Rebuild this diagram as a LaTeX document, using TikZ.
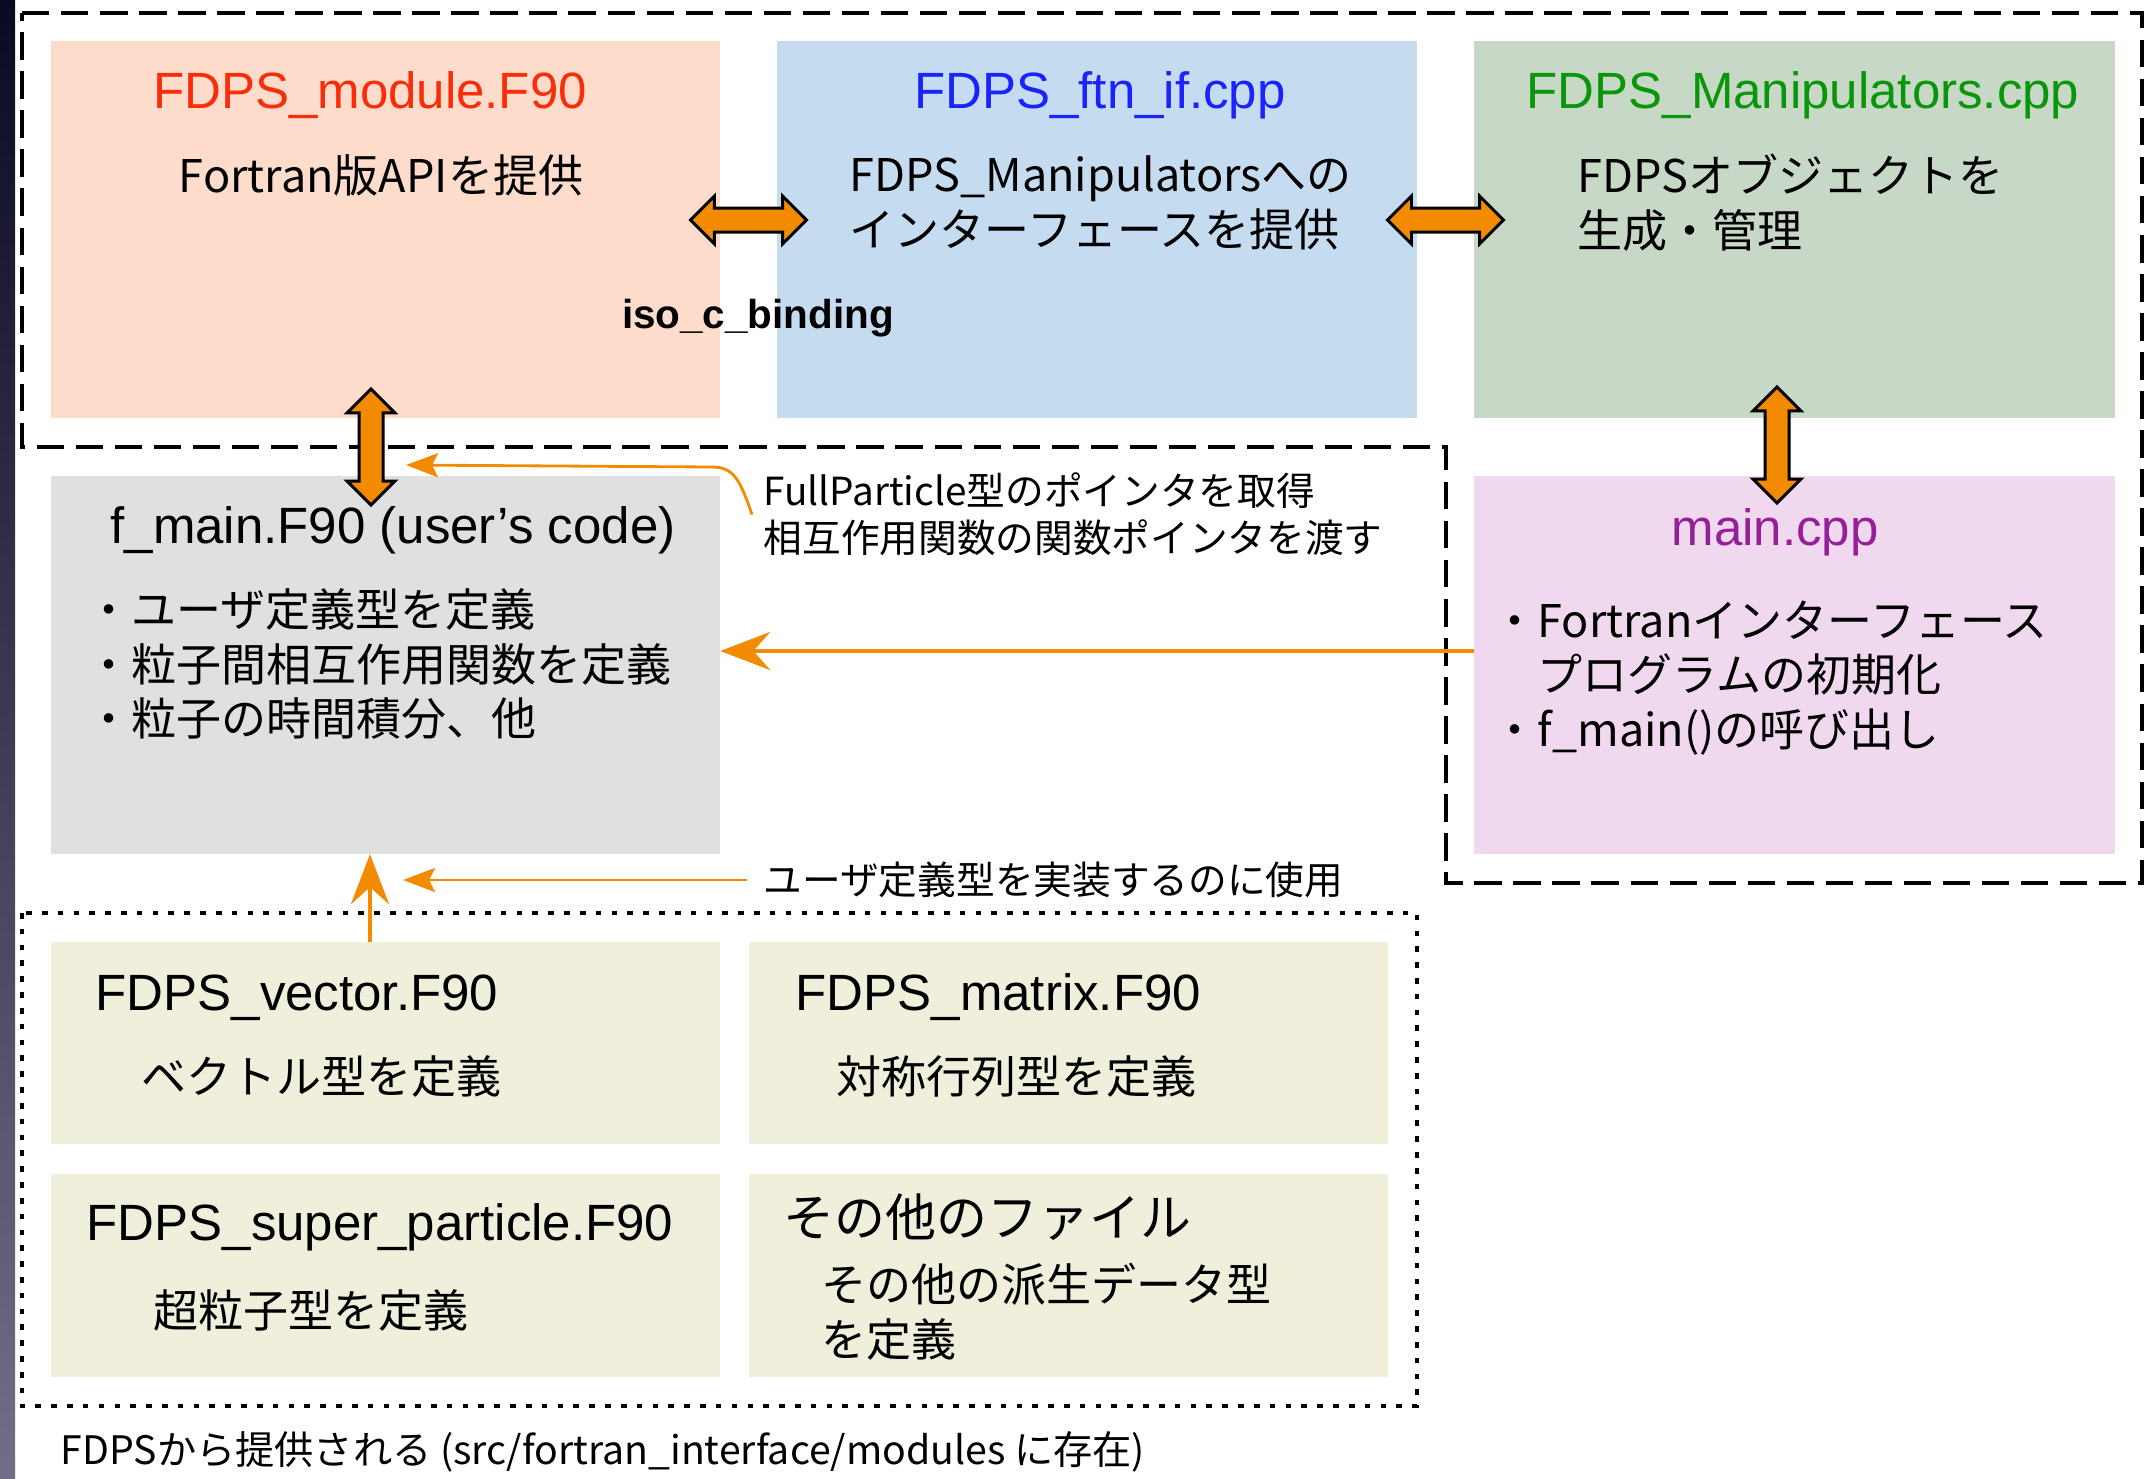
\documentclass[tikz,border=0pt]{standalone}
\usepackage{fontspec}
\setmainfont{Liberation Sans}
\newfontfamily\jp{Noto Sans CJK JP}
\usetikzlibrary{arrows.meta,shapes.arrows}
\definecolor{peach}{RGB}{253,220,203}
\definecolor{skyb}{RGB}{197,220,240}
\definecolor{sage}{RGB}{199,216,198}
\definecolor{grayb}{RGB}{224,224,224}
\definecolor{pinkb}{RGB}{240,216,239}
\definecolor{beige}{RGB}{239,239,219}
\definecolor{arrorange}{RGB}{242,139,0}
\definecolor{redt}{RGB}{250,45,10}
\definecolor{bluet}{RGB}{25,35,250}
\definecolor{greent}{RGB}{10,150,10}
\definecolor{purplet}{RGB}{150,30,150}
\definecolor{stripa}{RGB}{10,10,32}
\definecolor{stripb}{RGB}{114,110,136}
\newcommand\ttl{\fontsize{14.5}{17}\selectfont}
\newcommand\bdy{\jp\fontsize{12.8}{15.6}\selectfont}
\newcommand\nte{\jp\fontsize{11}{13.4}\selectfont}
\tikzstyle{filebox}=[rectangle,inner sep=0,outer sep=0]
\tikzstyle{txt}=[inner sep=0,align=left]

\begin{document}
\begin{tikzpicture}[x=0.01cm,y=-0.01cm,>={Stealth[length=5mm,width=3.8mm,inset=1.7mm]}]
\tikzset{dblarr/.style={double arrow,draw=black,fill=arrorange,line width=0.85pt,inner sep=0,
  text height=2.1mm,text depth=0pt,minimum height=1.16cm,double arrow head extend=1.2mm},
  bigarr/.style={->,draw=arrorange,line width=1.4pt},
  thinarr/.style={-{Stealth[length=3.2mm,width=2.4mm,inset=0.6mm]},draw=arrorange,line width=0.8pt},
  dashbox/.style={line width=1.3pt,dash pattern=on 7.8pt off 3.3pt},
  dotbox/.style={line width=0.9pt,dash pattern=on 1.6pt off 2.9pt}}
\useasboundingbox (0,0) rectangle (2146,1478);
\shade[top color=stripa,bottom color=stripb] (0,0) rectangle (15,1478);

\draw[dashbox] (22,13) -- (2142,13) -- (2142,883) -- (1446,883) -- (1446,447) -- (22,447) -- cycle;
\draw[dotbox] (22,913) rectangle (1417,1406);

\node[filebox,fill=peach,minimum width=6.69cm,minimum height=3.77cm] (mod) at (385.5,229.5) {};
\node[filebox,fill=skyb,minimum width=6.40cm,minimum height=3.77cm] (ftn) at (1097,229.5) {};
\node[filebox,fill=sage,minimum width=6.41cm,minimum height=3.77cm] (man) at (1794.5,229.5) {};
\node[filebox,fill=grayb,minimum width=6.69cm,minimum height=3.78cm] (fmain) at (385.5,665) {};
\node[filebox,fill=pinkb,minimum width=6.41cm,minimum height=3.78cm] (mainc) at (1794.5,665) {};
\node[filebox,fill=beige,minimum width=6.69cm,minimum height=2.02cm] (vec) at (385.5,1043) {};
\node[filebox,fill=beige,minimum width=6.39cm,minimum height=2.02cm] (mat) at (1068.5,1043) {};
\node[filebox,fill=beige,minimum width=6.69cm,minimum height=2.03cm] (sup) at (385.5,1275.5) {};
\node[filebox,fill=beige,minimum width=6.39cm,minimum height=2.03cm] (oth) at (1068.5,1275.5) {};

\node[txt,anchor=base,text=redt,font=\ttl] (modt) at (370,108) {FDPS\_module.F90};
\node[txt,font=\bdy] (mods) at (381,175) {Fortran版APIを提供};
\node[txt,anchor=base,text=bluet,font=\ttl] (ftnt) at (1100,108) {FDPS\_ftn\_if.cpp};
\node[txt,anchor=west,font=\bdy] (ftns) at (849,202.5) {FDPS\_Manipulatorsへの\\インターフェースを提供};
\node[txt,anchor=base,text=greent,font=\ttl] (mant) at (1803,108) {FDPS\_Manipulators.cpp};
\node[txt,anchor=west,font=\bdy] (mans) at (1577,202.5) {FDPSオブジェクトを\\生成・管理};
\node[txt,anchor=base,font=\ttl] (fmaint) at (393,543) {f\_main.F90 (user’s code)};
\node[txt,anchor=west,font=\bdy] (fmains) at (86,664) {・ユーザ定義型を定義\\・粒子間相互作用関数を定義\\・粒子の時間積分、他};
\node[txt,anchor=base,text=purplet,font=\ttl] (mainct) at (1775,545) {main.cpp};
\node[txt,anchor=west,font=\bdy] (maincs) at (1492,678) {・Fortranインターフェース\\　プログラムの初期化\\・f\_main()の呼び出し};
\node[txt,anchor=base west,font=\ttl] (vect) at (95,1010) {FDPS\_vector.F90};
\node[txt,anchor=west,font=\bdy] (vecs) at (141,1076) {ベクトル型を定義};
\node[txt,anchor=base west,font=\ttl] (matt) at (795,1010) {FDPS\_matrix.F90};
\node[txt,anchor=west,font=\bdy] (mats) at (836,1076) {対称行列型を定義};
\node[txt,anchor=base west,font=\ttl] (supt) at (86,1240) {FDPS\_super\_particle.F90};
\node[txt,anchor=west,font=\bdy] (sups) at (153,1310) {超粒子型を定義};
\node[txt,anchor=west,font=\jp\ttl] (otht) at (783,1217) {その他のファイル};
\node[txt,anchor=west,font=\bdy] (oths) at (821,1311.5) {その他の派生データ型\\を定義};

\node[txt,anchor=base,font=\bfseries\fontsize{11.5}{14}\selectfont] (iso) at (758,328) {iso\_c\_binding};
\node[txt,anchor=west,font=\nte] (ptrlbl) at (763,514.5) {FullParticle型のポインタを取得\\相互作用関数の関数ポインタを渡す};
\node[txt,anchor=west,font=\nte] (uselbl) at (763,880) {ユーザ定義型を実装するのに使用};
\node[txt,anchor=west,font=\jp\fontsize{11.15}{13.4}\selectfont] (foot) at (60,1452) {FDPSから提供される (src/fortran\_interface/modules に存在)};

\node[dblarr] (da1) at (748.5,220) {};
\node[dblarr] (da2) at (1445.5,220) {};
\node[dblarr,rotate=90] (da3) at (371,447) {};
\node[dblarr,rotate=90] (da4) at (1777,445) {};

\coordinate (ptrtip) at (406,465);
\coordinate (usetip) at (403,880);
\draw[bigarr] ([yshift=1.4mm]mainc.west) -- ([yshift=1.4mm]fmain.east);
\draw[bigarr] ([xshift=-1.55mm]vec.north) -- ([xshift=-1.55mm]fmain.south);
\draw[thinarr] ([xshift=-1.6mm]uselbl.west) -- (usetip);
\draw[thinarr] ([xshift=-1.1mm]ptrlbl.west) .. controls (740,480) and (734,467) .. (712,467) -- (ptrtip);
\end{tikzpicture}
\end{document}
